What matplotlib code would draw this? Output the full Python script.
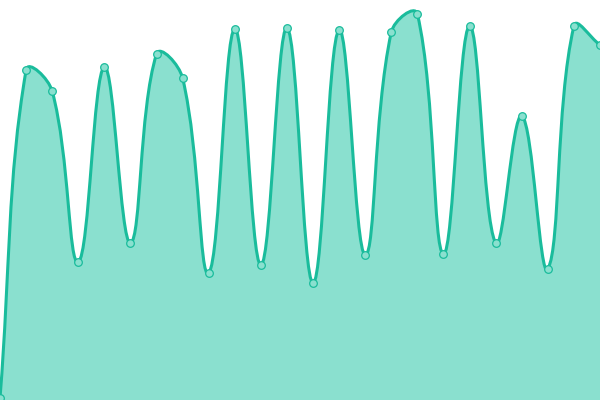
import numpy as np
import matplotlib
matplotlib.use("Agg")
import matplotlib.pyplot as plt
from matplotlib.path import Path
from matplotlib.patches import PathPatch

# data
x_idx = list(range(24))
values = [2, 330, 309, 138, 333, 157, 346, 322, 127, 371, 135, 372,
          117, 370, 145, 368, 386, 146, 374, 157, 284, 131, 374, 355]

LINE = "#1abc9c"
FILL = "#8ae0cf"
TENSION = 0.4

fig = plt.figure(figsize=(6, 4), dpi=100)
ax = fig.add_axes([0, 0, 1, 1])
ax.set_xlim(0, 23)
ax.set_ylim(0, 400)
ax.axis("off")
fig.canvas.draw()

pts = ax.transData.transform(np.column_stack([x_idx, values]))
n = len(pts)
cin, cout = [], []
for i in range(n):
    p = pts[i]
    prev = pts[i - 1] if i > 0 else p
    nxt = pts[i + 1] if i < n - 1 else p
    d01 = np.hypot(*(p - prev))
    d12 = np.hypot(*(nxt - p))
    tot = d01 + d12
    s01 = d01 / tot if tot else 0
    s12 = d12 / tot if tot else 0
    v = nxt - prev
    cin.append(p - TENSION * s01 * v)
    cout.append(p + TENSION * s12 * v)

verts = [pts[0]]
codes = [Path.MOVETO]
for i in range(1, n):
    verts += [cout[i - 1], cin[i], pts[i]]
    codes += [Path.CURVE4] * 3

inv = ax.transData.inverted()
curve = inv.transform(np.array(verts))
line_path = Path(curve, codes)
fill_verts = list(curve) + [[x_idx[-1], 0], [x_idx[0], 0], curve[0]]
fill_codes = list(codes) + [Path.LINETO, Path.LINETO, Path.CLOSEPOLY]
ax.add_patch(PathPatch(Path(fill_verts, fill_codes), facecolor=FILL,
                       edgecolor="none", zorder=1))
ax.add_patch(PathPatch(line_path, facecolor="none", edgecolor=LINE,
                       lw=2.2, zorder=2))
ax.plot(x_idx, values, ls="none", marker="o", ms=5.5, mfc=FILL,
        mec=LINE, mew=0.9, zorder=3, clip_on=False)

fig.savefig("out.png", dpi=100)
